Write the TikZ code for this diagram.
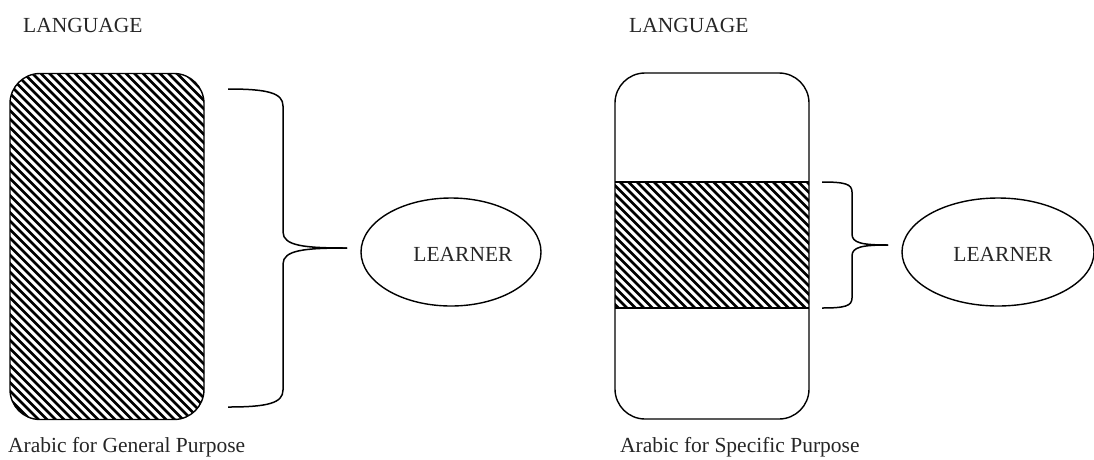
\documentclass[tikz,border=0pt]{standalone}
\usepackage{fontspec}
\setmainfont{Liberation Serif}
\usetikzlibrary{shapes.geometric}
\tikzset{
  outline/.style={draw=black, line width=1.4pt},
  tallbox/.style={outline, rounded corners=30pt, minimum width=194pt, minimum height=346pt, inner sep=0pt},
  learnerel/.style={outline, ellipse, inner sep=0pt},
  lbl/.style={inner sep=0pt, font=\fontsize{21.5}{26}\selectfont, text=black!85},
  bracepath/.style={draw=black, line width=1.5pt},
  hatchline/.style={draw=black, line width=2.6pt}
}
\begin{document}
\begin{tikzpicture}[x=1pt,y=-1pt]
\useasboundingbox (0,0) rectangle (1094,459);
% left box with hatching
\begin{scope}
  \clip[rounded corners=30pt] (10,74) rectangle (204,419);
  \foreach \i in {-345,-336.5,...,210} {
    \draw[hatchline] (\i,70) -- (\i+355,425);
  }
\end{scope}
\node[tallbox] (gbox) at (107,246.5) {};
% right box
\begin{scope}
  \clip (615,182) rectangle (809,308);
  \foreach \i in {480,488.5,...,815} {
    \draw[hatchline] (\i,178) -- (\i+134,312);
  }
\end{scope}
\node[tallbox] (sbox) at (712,246) {};
\coordinate (bandtl) at (615,182);
\coordinate (bandtr) at (809,182);
\coordinate (bandbl) at (615,308);
\coordinate (bandbr) at (809,308);
\draw[outline] (bandtl) -- (bandtr);
\draw[outline] (bandbl) -- (bandbr);
% ellipses
\node[learnerel, minimum width=180pt, minimum height=108pt] (gl) at (451,252) {};
\node[lbl] (gltext) at (463,254) {LEARNER};
\node[learnerel, minimum width=192pt, minimum height=108pt] (sl) at (998,252) {};
\node[lbl] (sltext) at (1003,254) {LEARNER};
% braces
\coordinate (gbt) at (228,89);
\coordinate (gbb) at (228,407);
\coordinate (gtip) at (347,248);
\draw[bracepath] (gbt) .. controls (268,89) and (283,93) .. (283,106)
   -- (283,232) .. controls (283,246) and (305,248) .. (gtip);
\draw[bracepath] (gbb) .. controls (268,407) and (283,403) .. (283,390)
   -- (283,264) .. controls (283,250) and (305,248) .. (gtip);
\coordinate (sbt) at (822,182);
\coordinate (sbb) at (822,308);
\coordinate (stip) at (888,245);
\draw[bracepath] (sbt) .. controls (845,182) and (852,184) .. (852,192)
   -- (852,234) .. controls (852,243) and (862,245) .. (stip);
\draw[bracepath] (sbb) .. controls (845,308) and (852,306) .. (852,298)
   -- (852,256) .. controls (852,247) and (862,245) .. (stip);
% labels
\node[lbl, anchor=base west] (lang1) at (23,32) {LANGUAGE};
\node[lbl, anchor=base west] (lang2) at (629,32) {LANGUAGE};
\node[lbl, anchor=base west] (cap1) at (8,452) {Arabic for General Purpose};
\node[lbl, anchor=base west] (cap2) at (620,452) {Arabic for Specific Purpose};
\end{tikzpicture}
\end{document}
